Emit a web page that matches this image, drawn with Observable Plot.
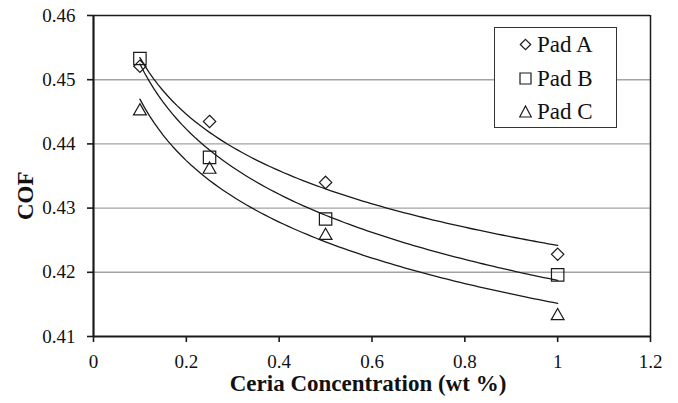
<!DOCTYPE html>
<html>
<head>
<meta charset="utf-8">
<script src="https://cdn.jsdelivr.net/npm/d3@7"></script>
<script src="https://cdn.jsdelivr.net/npm/@observablehq/plot@0.6"></script>
<style>
  html, body { margin: 0; padding: 0; background: #fff; }
  #chart { position: relative; width: 678px; height: 403px; overflow: hidden; }
  #chart svg { display: block; }
  .legend {
    position: absolute; left: 494px; top: 27px;
    border: 1.3px solid #333; background: #fff;
    font-family: "Liberation Serif", "Times New Roman", "DejaVu Serif", serif; font-size: 23px; color: #111;
    padding-left: 24px; box-sizing: border-box; width: 123px; height: 101px;
  }
  .legend .row { height: 33.5px; line-height: 33.5px; display: flex; align-items: center; white-space: nowrap; }
  .legend .row svg { margin-right: 5px; flex: none; }
</style>
</head>
<body>
<div id="chart"></div>
<script>
// ---- data ----
const concentrations = [0.1, 0.25, 0.5, 1.0];          // Ceria concentration (wt %)
const padA = [0.4521, 0.4435, 0.4340, 0.4228];          // COF, Pad A
const padB = [0.4533, 0.4379, 0.4283, 0.4196];          // COF, Pad B
const padC = [0.4454, 0.4363, 0.4260, 0.4135];          // COF, Pad C
const seriesNames = ["Pad A", "Pad B", "Pad C"];
const xTicks = [0, 0.2, 0.4, 0.6, 0.8, 1, 1.2];
const yTicks = [0.41, 0.42, 0.43, 0.44, 0.45, 0.46];
const xLabel = "Ceria Concentration (wt %)";
const yLabel = "COF";

// ---- tables built from the arrays ----
const seriesValues = [padA, padB, padC];
const points = seriesValues.map((vals, s) =>
  concentrations.map((x, i) => ({series: seriesNames[s], x, y: vals[i]})));

// logarithmic trend line (least squares y = a + b ln x), as in the reference
function logFit(xs, ys) {
  const lx = xs.map(Math.log);
  const mx = d3.mean(lx), my = d3.mean(ys);
  const b = d3.sum(lx, (v, i) => (v - mx) * (ys[i] - my)) / d3.sum(lx, v => (v - mx) ** 2);
  const a = my - b * mx;
  return x => a + b * Math.log(x);
}
const xMin = d3.min(concentrations), xMax = d3.max(concentrations);
const trend = seriesValues.map((vals, s) => {
  const f = logFit(concentrations, vals);
  return d3.range(0, 91).map(i => {
    const x = xMin + (xMax - xMin) * i / 90;
    return {series: seriesNames[s], x, y: f(x)};
  });
});

// open marker symbols (bbox-centred, like the spreadsheet markers)
const diamondSym = {draw(ctx) { const h = 6.2; ctx.moveTo(0, -h); ctx.lineTo(h, 0); ctx.lineTo(0, h); ctx.lineTo(-h, 0); ctx.closePath(); }};
const squareSym  = {draw(ctx) { const h = 6.2; ctx.moveTo(-h, -h); ctx.lineTo(h, -h); ctx.lineTo(h, h); ctx.lineTo(-h, h); ctx.closePath(); }};
const triangleSym = {draw(ctx) { const w = 6.4, h = 5.6; ctx.moveTo(0, -h); ctx.lineTo(w, h); ctx.lineTo(-w, h); ctx.closePath(); }};
const symbols = [diamondSym, squareSym, triangleSym];

const ink = "#1a1a1a";
const font = "'Liberation Serif', 'Times New Roman', 'DejaVu Serif', serif";

const chart = Plot.plot({
  width: 678,
  height: 403,
  marginLeft: 93,
  marginRight: 28,
  marginTop: 15,
  marginBottom: 67,
  style: {fontFamily: font, fontSize: "19px", color: "#111", background: "#fff"},
  x: {domain: [0, 1.2]},
  y: {domain: [0.41, 0.46]},
  marks: [
    Plot.gridY(yTicks.slice(1, -1), {stroke: "#a3a3a3", strokeOpacity: 1, strokeWidth: 1.4}),
    // plot-area border (top / right) and axes (left / bottom)
    Plot.ruleY([0.46], {stroke: ink, strokeWidth: 1.5}),
    Plot.ruleX([1.2], {stroke: ink, strokeWidth: 1.5}),
    Plot.axisY({ticks: yTicks, tickSize: 6, tickPadding: 12, tickFormat: d => d.toFixed(2),
      label: null, fontSize: 19, stroke: ink, strokeWidth: 1.6, fill: "#111"}),
    Plot.axisX({ticks: xTicks, tickSize: 6, tickPadding: 12, tickFormat: d => String(d),
      label: null, fontSize: 19, stroke: ink, strokeWidth: 1.6, fill: "#111"}),
    Plot.ruleX([0], {stroke: ink, strokeWidth: 2.2}),
    Plot.ruleY([0.41], {stroke: ink, strokeWidth: 2.2}),
    // trend lines
    ...trend.map(t => Plot.line(t, {x: "x", y: "y", stroke: ink, strokeWidth: 1.3})),
    // markers
    ...points.map((p, s) => Plot.dot(p, {x: "x", y: "y", symbol: symbols[s], r: 5,
      stroke: ink, strokeWidth: 1.2, fill: "none"})),
    // axis titles
    Plot.text([xLabel], {text: d => d, frameAnchor: "bottom", dy: 54, dx: -4,
      fontWeight: "bold", fontSize: 23, fill: "#111"}),
    Plot.text([yLabel], {text: d => d, frameAnchor: "left", rotate: -90, dx: -68, dy: 44,
      fontWeight: "bold", fontSize: 23, fill: "#111"})
  ]
});

const root = document.getElementById("chart");
root.appendChild(chart);

// legend (boxed, inside the plot area at top right)
const legend = document.createElement("div");
legend.className = "legend";
const legendPaths = [
  "M6.5,1.3 L11.7,6.5 L6.5,11.7 L1.3,6.5 Z",
  "M1,1 L12,1 L12,12 L1,12 Z",
  "M6.5,1 L12.3,12 L0.7,12 Z"
];
seriesNames.forEach((name, i) => {
  const row = document.createElement("div");
  row.className = "row";
  row.innerHTML = `<svg width="13" height="13" viewBox="0 0 13 13"><path d="${legendPaths[i]}" fill="none" stroke="${ink}" stroke-width="1.2"/></svg><span>${name}</span>`;
  legend.appendChild(row);
});
root.appendChild(legend);
</script>
</body>
</html>
